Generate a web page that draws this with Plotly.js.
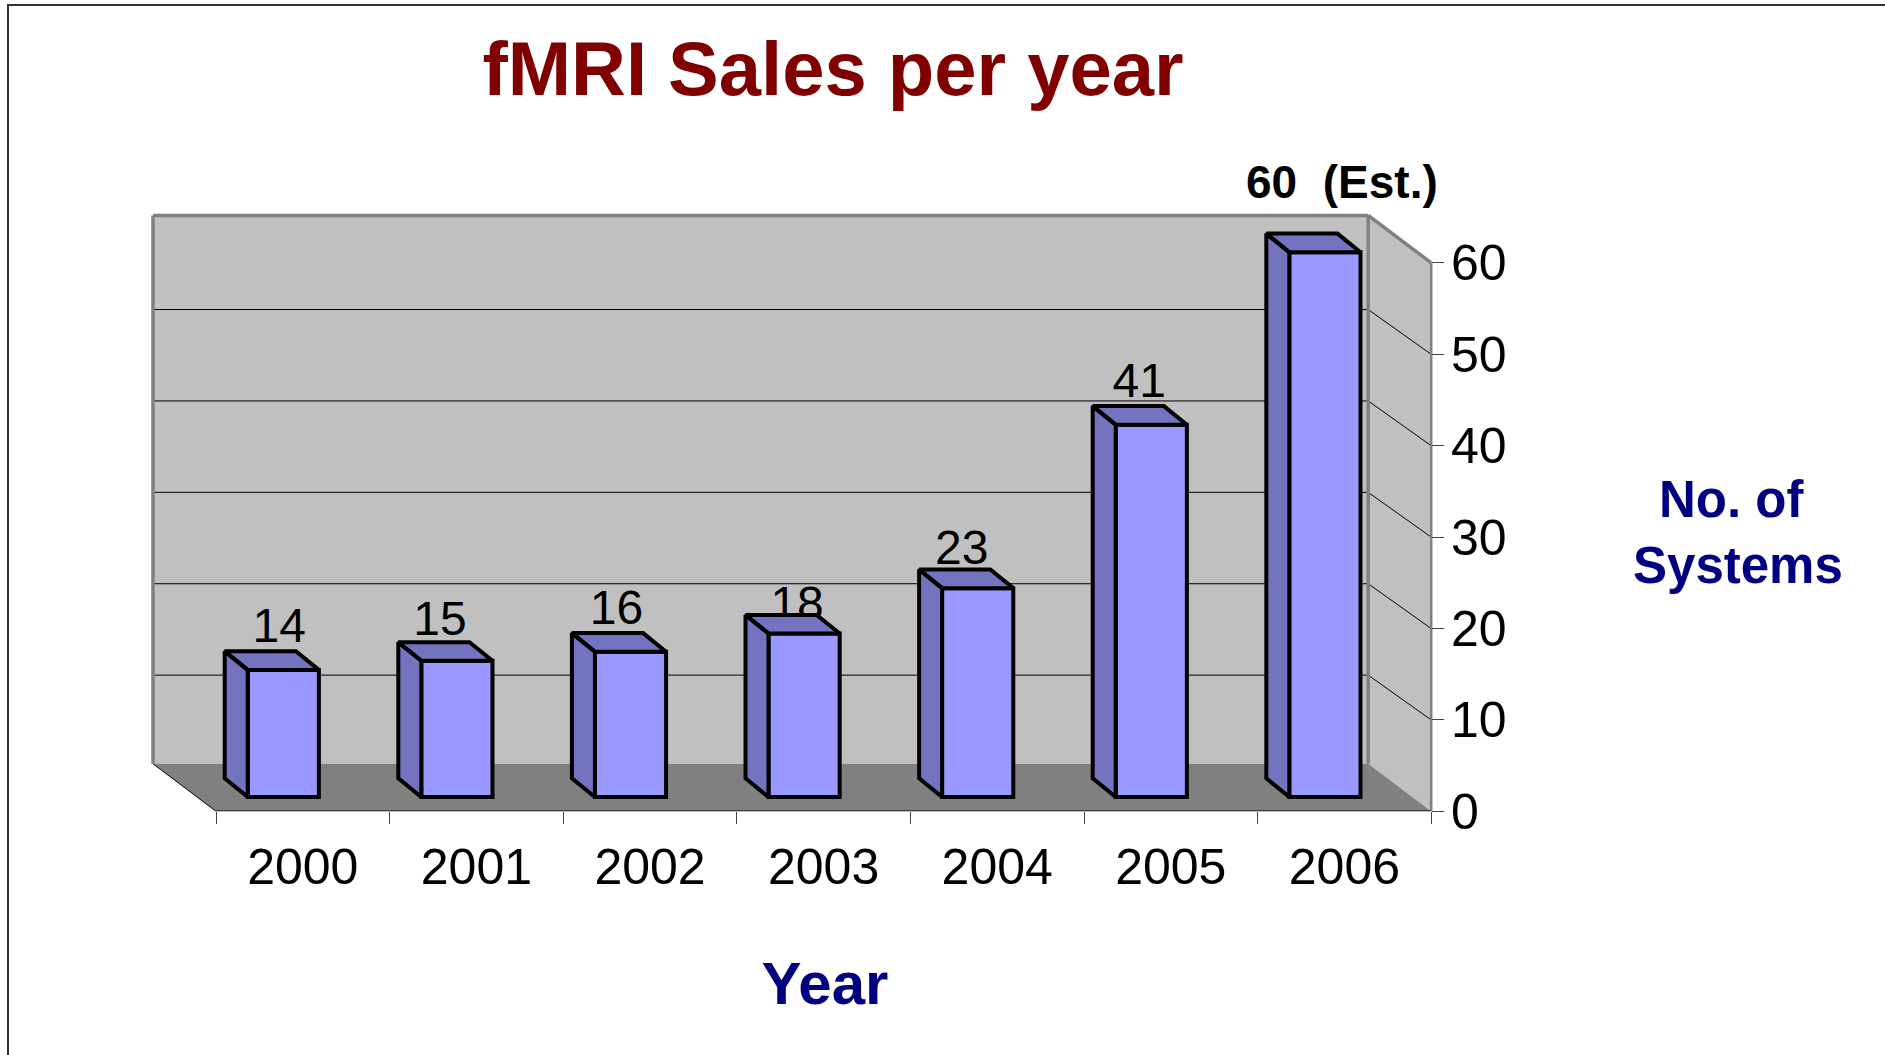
<!DOCTYPE html>
<html>
<head>
<meta charset="utf-8">
<script src="https://cdn.plot.ly/plotly-3.0.1.min.js"></script>
<style>html,body{margin:0;padding:0;background:#fff}#chart{width:1885px;height:1055px}</style>
</head>
<body>
<div id="chart"></div>
<script>
// ---- data ----
const years = ["2000","2001","2002","2003","2004","2005","2006"];
const sales = [14,15,16,18,23,41,60];
const labelSuffix = ["","","","","","","(Est.)"];
const yTicks = [0,10,20,30,40,50,60];
const gridValues = [10,20,30,40,50];

// ---- manual label placement, in px relative to the front-face centre / value ----
const labelNudgeX = [-4,-17,-14,-7,-16,-12,17];
const labelRise = [40,38,40,26,36,40,66];

// ---- geometry of the 3-D look ----
const W = 1885, H = 1055;
const plotLeft = 145, plotRight = 1505, plotTop = 140, plotBottom = 811.3;
const catPx = 173.6, unitPx = 9.14;          // front plane scale
const barUnitPx = 9.08;                      // bar plane scale
const frontLeftPx = 216;
const wallDx = 63/catPx, wallDy = 47.5/unitPx;  // floor depth
const barShiftPx = 19.5, barBasePx = 797;      // bars stand inside the floor
const barWidth = 0.41, barDx = 23/catPx, barDy = 2.05;
const gridDrop = 0.3;                          // back-wall grid sits a little lower

const xOf = px => (px-frontLeftPx)/catPx-0.5;
const xRange = [xOf(plotLeft), xOf(plotRight)];
const yRange = [0,(plotBottom-plotTop)/unitPx];
const x2Range = [xOf(plotLeft+barShiftPx), xOf(plotRight+barShiftPx)];
const y2Range = [(barBasePx-plotBottom)/barUnitPx,(barBasePx-plotTop)/barUnitPx];

const idx = years.map((_,i)=>i);
const xL = -0.5, xR = years.length-0.5, yMax = yTicks[yTicks.length-1];

// ---- faces ----
const fx=[], fy=[];
sales.forEach((v,i)=>{
  const a=i-barWidth/2, b=i+barWidth/2;
  fx.push(a,a,a-barDx,a-barDx,a,null); fy.push(0,v,v+barDy,barDy,0,null);
  fx.push(a,b,b-barDx,a-barDx,a,null); fy.push(v,v,v+barDy,v+barDy,v,null);
});

const labelX = idx.map(i=>i+labelNudgeX[i]/catPx);
const labelY = sales.map((v,i)=>v+labelRise[i]/barUnitPx);
const labelText = sales.map((v,i)=> labelSuffix[i] ? "<b>"+v+"&nbsp; "+labelSuffix[i]+"</b>" : String(v));

const traces = [
  {type:"scatter",mode:"text",x:labelX,y:labelY,text:labelText,xaxis:"x2",yaxis:"y2",cliponaxis:false,
   textposition:"middle center",textfont:{family:"Liberation Sans",size:sales.map((v,i)=>labelSuffix[i]?46:48),color:"#000"},hoverinfo:"skip",showlegend:false},
  {type:"bar",x:idx,y:sales,base:0,width:barWidth,xaxis:"x2",yaxis:"y2",
   marker:{color:"#9999FF",line:{color:"#000",width:4}},showlegend:false},
  {type:"scatter",mode:"lines",x:fx,y:fy,xaxis:"x2",yaxis:"y2",fill:"toself",fillcolor:"#7373BF",
   line:{color:"#000",width:4},hoverinfo:"skip",showlegend:false}
];

// ---- walls ----
const poly = pts => "M"+pts.map(p=>p.join(",")).join("L")+"Z";
const seg = (x0,y0,x1,y1,color,width)=>({type:"line",xref:"x",yref:"y",x0,y0,x1,y1,layer:"below",line:{color,width}});
const shapes = [
  {type:"path",xref:"x",yref:"y",layer:"below",path:poly([[xL-wallDx,wallDy],[xR-wallDx,wallDy],[xR-wallDx,yMax+wallDy],[xL-wallDx,yMax+wallDy]]),fillcolor:"#C0C0C0",line:{width:0}},
  {type:"path",xref:"x",yref:"y",layer:"below",path:poly([[xR-wallDx,wallDy],[xR-wallDx,yMax+wallDy],[xR,yMax],[xR,0]]),fillcolor:"#C0C0C0",line:{width:0}},
  {type:"path",xref:"x",yref:"y",layer:"below",path:poly([[xL-wallDx,wallDy],[xR-wallDx,wallDy],[xR,0],[xL,0]]),fillcolor:"#808080",line:{width:0}}
];
gridValues.forEach(v=>{
  shapes.push(seg(xL-wallDx,v+wallDy-gridDrop,xR-wallDx,v+wallDy-gridDrop,"#000",1));
  shapes.push(seg(xR-wallDx,v+wallDy-gridDrop,xR,v,"#000",1));
});
shapes.push(seg(xL-wallDx,wallDy,xL-wallDx,yMax+wallDy,"#808080",3.5));
shapes.push(seg(xL-wallDx,yMax+wallDy,xR-wallDx,yMax+wallDy,"#808080",3.5));
shapes.push(seg(xR-wallDx,yMax+wallDy,xR-wallDx,wallDy,"#808080",3.5));
shapes.push(seg(xR-wallDx,yMax+wallDy,xR,yMax,"#808080",3.5));
shapes.push(seg(xR,yMax,xR,0,"#808080",2.5));
shapes.push(seg(xL-wallDx,wallDy,xL,0,"#000",1));
shapes.push(seg(xL,0,xR,0,"#000",1.5));
// outer frame
shapes.push({type:"path",xref:"paper",yref:"paper",layer:"below",
  path:"M"+(8/W)+",0L"+(8/W)+","+(1-5/H)+"L1,"+(1-5/H),line:{color:"#333",width:2}});

const font="Liberation Sans";
const layout = {
  width:W,height:H,margin:{l:0,r:0,t:0,b:0},paper_bgcolor:"#fff",plot_bgcolor:"rgba(0,0,0,0)",
  showlegend:false,barmode:"overlay",shapes,
  title:{text:"<b>fMRI Sales per year</b>",font:{family:font,size:76,color:"#800000"},
    x:833/W,xref:"container",xanchor:"center",y:1-68/H,yref:"container",yanchor:"middle"},
  xaxis:{domain:[plotLeft/W,plotRight/W],range:xRange,tickmode:"array",tickvals:idx,ticktext:years,
    ticks:"",showgrid:false,zeroline:false,showline:false,ticklabelstandoff:22,
    tickfont:{family:font,size:50,color:"#000"},
    minor:{tickmode:"array",tickvals:[-0.5,0.5,1.5,2.5,3.5,4.5,5.5,6.5],ticks:"outside",ticklen:12,tickwidth:1,tickcolor:"#444",showgrid:false},
    title:{text:"<b>Year</b>",font:{family:font,size:60,color:"#000080"},standoff:67}},
  yaxis:{domain:[(H-plotBottom)/H,(H-plotTop)/H],range:yRange,anchor:"free",position:1431/W,side:"right",
    tickmode:"array",tickvals:yTicks,ticks:"outside",ticklen:12,tickwidth:1,tickcolor:"#444",ticklabelstandoff:-3,
    showgrid:false,zeroline:false,showline:false,tickfont:{family:font,size:50,color:"#000"}},
  xaxis2:{overlaying:"x",range:x2Range,visible:false,anchor:"y2"},
  yaxis2:{overlaying:"y",range:y2Range,visible:false,anchor:"x2"},
  annotations:[
    {xref:"paper",yref:"paper",x:1731/W,y:1-499/H,text:"<b>No. of</b>",showarrow:false,xanchor:"center",yanchor:"middle",font:{family:font,size:51,color:"#000080"}},
    {xref:"paper",yref:"paper",x:1738/W,y:1-565/H,text:"<b>Systems</b>",showarrow:false,xanchor:"center",yanchor:"middle",font:{family:font,size:51,color:"#000080"}}
  ]
};
Plotly.newPlot("chart",traces,layout,{staticPlot:true,displayModeBar:false});
</script>
</body>
</html>
